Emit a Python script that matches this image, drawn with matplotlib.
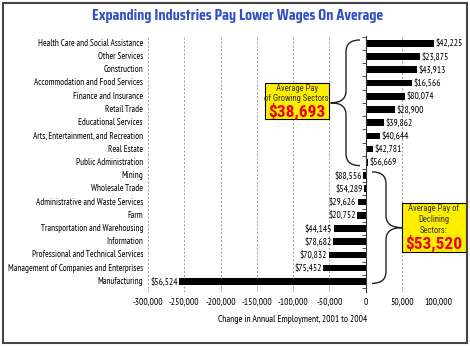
import matplotlib
matplotlib.use('Agg')
import matplotlib.pyplot as plt
from matplotlib.path import Path
from matplotlib.patches import PathPatch, Rectangle

plt.rcParams['font.family'] = ['PT Sans Narrow', 'Roboto Condensed', 'DejaVu Sans']
title_font = ['Saira Condensed', 'Roboto Condensed', 'DejaVu Sans']
box_font = ['Roboto Condensed', 'DejaVu Sans']

sectors = ['Health Care and Social Assistance', 'Other Services', 'Construction',
           'Accommodation and Food Services', 'Finance and Insurance', 'Retail Trade',
           'Educational Services', 'Arts, Entertainment, and Recreation', 'Real Estate',
           'Public Administration', 'Mining', 'Wholesale Trade',
           'Administrative and Waste Services', 'Farm', 'Transportation and Warehousing',
           'Information', 'Professional and Technical Services',
           'Management of Companies and Enterprises', 'Manufacturing']
emp_change = [94000, 75600, 71000, 64000, 54500, 41000, 25500, 19600, 10800, 3000,
              -3000, -2500, -11000, -12000, -44000, -44500, -51000, -58000, -257000]
avg_pay = [42225, 23875, 43913, 16566, 80074, 28900, 39862, 40644, 42781, 56669,
           88556, 54289, 29626, 20752, 44145, 78682, 70832, 75452, 56524]
xticks = [-300000, -250000, -200000, -150000, -100000, -50000, 0, 50000, 100000]
growing_avg = 38693
declining_avg = 53520

fig = plt.figure(figsize=(4.7, 3.5), dpi=100)
ax = fig.add_axes([148/470, 1-292/350, 290/470, 256/350])

rows = list(range(len(sectors)))
ax.barh(rows, emp_change, height=0.5, color='black', zorder=3)

for x in xticks:
    if x != 0:
        ax.axvline(x, color='#999999', lw=0.7, ls=(0, (2, 2)), zorder=1)

ax.set_xlim(-300000, 100000)
ax.set_ylim(18.8, -0.55)
ax.set_xticks(xticks)
ax.set_xticklabels(['{:,}'.format(x) for x in xticks], fontsize=6.8)
ax.tick_params(axis='x', length=0, pad=4)
ax.set_xlabel('Change in Annual Employment, 2001 to 2004', fontsize=6.8, labelpad=6)

for s in ['top', 'right', 'bottom']:
    ax.spines[s].set_visible(False)
ax.spines['left'].set_position(('data', 0))
ax.spines['left'].set_color('#333333')
ax.spines['left'].set_linewidth(0.8)
ax.spines['left'].set_zorder(4)
ax.set_yticks([r - 0.5 for r in rows] + [len(rows) - 0.5])
ax.set_yticklabels([])
ax.tick_params(axis='y', length=3, direction='out', color='#333333', width=0.6)

# sector names along the left
for r, name in zip(rows, sectors):
    ax.text(-0.017, r, name, transform=ax.get_yaxis_transform(), ha='right',
            va='center', fontsize=6.5)

# pay labels at bar ends
for r, v, p in zip(rows, emp_change, avg_pay):
    off = 1.0 if v >= 0 else -1.0
    ax.annotate('${:,}'.format(p), (v, r), xytext=(off, 0), textcoords='offset points',
                ha='left' if v >= 0 else 'right', va='center', fontsize=6.8,
                annotation_clip=False)


def brace(x_end, x_mid, x_tip, y_top, y_bot, r=0.9):
    y_m = (y_top + y_bot) / 2
    verts = [(x_end, y_top), (x_mid, y_top), (x_mid, y_top + r),
             (x_mid, y_m - r),
             (x_mid, y_m), (x_tip, y_m),
             (x_mid, y_m), (x_mid, y_m + r),
             (x_mid, y_bot - r),
             (x_mid, y_bot), (x_end, y_bot)]
    codes = [Path.MOVETO, Path.CURVE3, Path.CURVE3, Path.LINETO,
             Path.CURVE3, Path.CURVE3, Path.CURVE3, Path.CURVE3,
             Path.LINETO, Path.CURVE3, Path.CURVE3]
    ax.add_patch(PathPatch(Path(verts, codes), fill=False, lw=1.0, ec='#222222',
                           clip_on=False, zorder=5))


brace(-7600, -26900, -48000, -0.25, 9.25)
brace(9000, 28300, 50300, 9.72, 18.15)

# callout boxes
ax.add_patch(Rectangle((-138600, 2.98), 88900, 2.76, fc='#ffee00', ec='black',
                       lw=0.8, clip_on=False, zorder=6))
ax.text(-94000, 3.45, 'Average Pay', ha='center', va='center', fontsize=6.2,
        color='#333333', zorder=7, family=box_font)
ax.text(-94000, 4.2, 'of Growing Sectors:', ha='center', va='center', fontsize=6.2,
        color='#333333', zorder=7, family=box_font)
ax.text(-94000, 5.15, '${:,}'.format(growing_avg), ha='center', va='center',
        fontsize=12.5, fontweight='bold', color='#ee0000', zorder=7, family=box_font)

ax.add_patch(Rectangle((50300, 12.06), 88300, 3.7, fc='#ffee00', ec='black',
                       lw=0.8, clip_on=False, zorder=6))
ax.text(94450, 12.48, 'Average Pay of', ha='center', va='center', fontsize=6.2,
        color='#333333', zorder=7, family=box_font)
ax.text(94450, 13.3, 'Declining', ha='center', va='center', fontsize=6.2,
        color='#333333', zorder=7, family=box_font)
ax.text(94450, 14.15, 'Sectors:', ha='center', va='center', fontsize=6.2,
        color='#333333', zorder=7, family=box_font)
ax.text(94450, 15.15, '${:,}'.format(declining_avg), ha='center', va='center',
        fontsize=12.5, fontweight='bold', color='#ee0000', zorder=7, family=box_font)

fig.text(0.505, 1 - 16/350, 'Expanding Industries Pay Lower Wages On Average',
         ha='center', va='center', fontsize=11.5, fontweight='bold', color='#3050c8',
         family=title_font)

fig.patches.append(Rectangle((3/470, 1 - 343/350), 464/470, 340/350, fill=False,
                             ec='#444444', lw=1.5, transform=fig.transFigure))

fig.savefig('out.png', dpi=100)
